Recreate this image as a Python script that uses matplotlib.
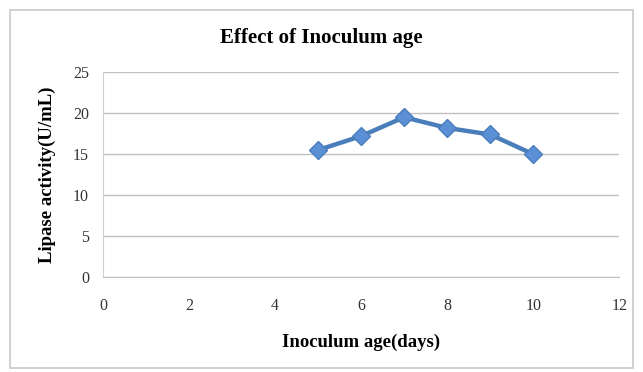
import matplotlib
matplotlib.use("Agg")
import matplotlib.pyplot as plt
from matplotlib.patches import Rectangle

# inoculum age (days) vs lipase activity (U/mL)
age_days = [5, 6, 7, 8, 9, 10]
activity = [15.5, 17.2, 19.5, 18.2, 17.4, 15.0]

x_ticks = [0, 2, 4, 6, 8, 10, 12]
y_ticks = [0, 5, 10, 15, 20, 25]

plt.rcParams["font.family"] = ["Liberation Serif", "DejaVu Serif"]

fig = plt.figure(figsize=(6.43, 3.72), dpi=100)
ax = fig.add_axes([0.160, 0.255, 0.803, 0.551])

# outer chart frame
fig.patches.append(Rectangle((0.016, 0.012), 0.968, 0.962, transform=fig.transFigure,
                             fill=False, edgecolor="#c8c8c8", linewidth=1.2))

ax.plot(age_days, activity, color="#4a7ebb", linewidth=3.2, marker="D", markersize=9,
        markerfacecolor="#5b8fd6", markeredgecolor="#4a7ebb", markeredgewidth=1.0, zorder=3)

ax.set_xlim(0, 12)
ax.set_ylim(0, 25)
ax.set_xticks(x_ticks)
ax.set_yticks(y_ticks)
ax.tick_params(axis="y", length=0, labelsize=11.5, colors="#333333", pad=10)
ax.tick_params(axis="x", length=0, labelsize=11.5, colors="#333333", pad=15)
ax.grid(axis="y", color="#c0c0c0", linewidth=1)
ax.set_axisbelow(True)
for side in ["top", "right"]:
    ax.spines[side].set_visible(False)
ax.spines["left"].set_color("#d0d0d0")
ax.spines["bottom"].set_color("#c0c0c0")

fig.text(0.5, 1 - 38 / 372, "Effect of Inoculum age", fontsize=15, fontweight="bold",
         ha="center", va="center")
ax.set_xlabel("Inoculum age(days)", fontsize=13.5, fontweight="bold", labelpad=14)
ax.set_ylabel("Lipase activity(U/mL)", fontsize=13.5, fontweight="bold", labelpad=12)

fig.savefig("out.png", dpi=100)
